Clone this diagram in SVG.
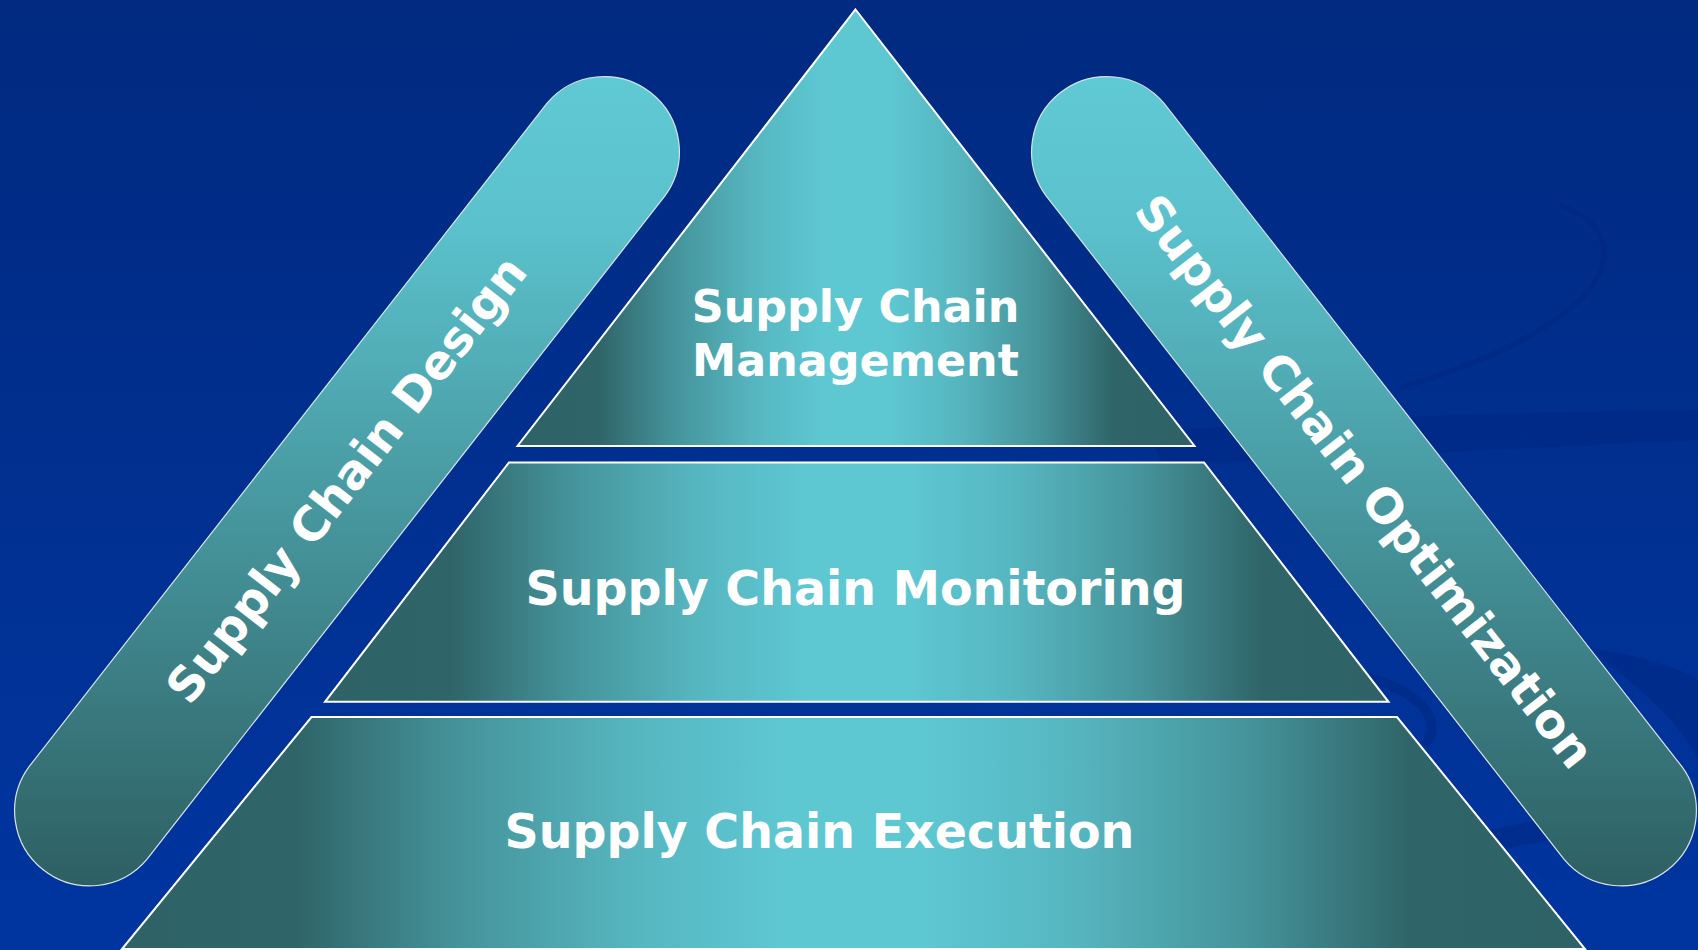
<svg xmlns="http://www.w3.org/2000/svg" width="1698" height="950" viewBox="0 0 1698 950">
  <defs>
    <linearGradient id="bg" x1="0" y1="0" x2="0" y2="1">
      <stop offset="0" stop-color="#012A80"/>
      <stop offset="1" stop-color="#0035A0"/>
    </linearGradient>
    <linearGradient id="tier" x1="0" y1="0" x2="1" y2="0">
      <stop offset="0" stop-color="#2E6266"/>
      <stop offset="0.12" stop-color="#2F6569"/>
      <stop offset="0.23" stop-color="#45939A"/>
      <stop offset="0.35" stop-color="#56B6C0"/>
      <stop offset="0.45" stop-color="#5DC7D2"/>
      <stop offset="0.55" stop-color="#5DC7D2"/>
      <stop offset="0.65" stop-color="#56B6C0"/>
      <stop offset="0.77" stop-color="#45939A"/>
      <stop offset="0.88" stop-color="#2F6569"/>
      <stop offset="1" stop-color="#2E6266"/>
    </linearGradient>
    <linearGradient id="pill" gradientUnits="userSpaceOnUse" x1="0" y1="75" x2="0" y2="888">
      <stop offset="0" stop-color="#5FC9D4"/>
      <stop offset="0.18" stop-color="#5BC2CD"/>
      <stop offset="1" stop-color="#2D5F62"/>
    </linearGradient>
  </defs>
  <style>
    .tier { fill: url(#tier); stroke: #FFFFFF; stroke-width: 2; stroke-linejoin: miter; }
    .pill { fill: url(#pill); stroke: #D8E4EC; stroke-width: 1.2; }
    .lbl { font-family: "DejaVu Sans", Verdana, sans-serif; font-weight: bold; fill: #FFFFFF; text-anchor: middle; }
    .swoosh { fill: #00267F; opacity: 0.45; }
  </style>

  <rect x="0" y="0" width="1698" height="950" fill="url(#bg)"/>

  <g id="background-swooshes">
    <path class="swoosh" d="M 1150 432 C 1320 420 1480 412 1698 410 L 1698 440 C 1490 448 1330 462 1160 462 Z"/>
    <path d="M 1560 205 C 1640 235 1625 320 1400 388" fill="none" stroke="#00267F" stroke-width="5" opacity="0.5"/>
    <path d="M 1360 676 C 1420 690 1445 720 1425 745" fill="none" stroke="#00267F" stroke-width="10" opacity="0.5"/>
    <path class="swoosh" d="M 1590 648 C 1640 655 1685 670 1698 680 L 1698 760 C 1680 720 1640 690 1590 648 Z"/>
    <path class="swoosh" d="M 1480 832 C 1560 815 1640 800 1698 790 L 1698 812 C 1640 822 1560 838 1490 852 Z"/>
  </g>

  <g id="node-design">
    <path class="pill" d="M 147.1 859.1 L 665.1 195.6 A 75 75 0 0 0 546.9 103.4 L 28.9 766.9 A 75 75 0 0 0 147.1 859.1 Z"/>
    <text class="lbl" font-size="47.5" transform="translate(346 479) rotate(-52)" x="0" y="17">Supply Chain Design</text>
  </g>

  <g id="node-optimization">
    <path class="pill" d="M 1563.9 859.1 L 1045.9 195.6 A 75 75 0 0 1 1164.1 103.4 L 1682.1 766.9 A 75 75 0 0 1 1563.9 859.1 Z"/>
    <text class="lbl" font-size="47.5" transform="translate(1365 481) rotate(52)" x="0" y="17">Supply Chain Optimization</text>
  </g>

  <g id="node-management">
    <polygon class="tier" points="855.5,9.5 1194.5,446 517.5,446"/>
    <text class="lbl" font-size="44.4" x="855.5" y="321.7">Supply Chain</text>
    <text class="lbl" font-size="44.4" x="855.5" y="375.5">Management</text>
  </g>

  <g id="node-monitoring">
    <polygon class="tier" points="509,462.4 1204,462.4 1388.5,701.8 325,701.8"/>
    <text class="lbl" font-size="47.5" x="855.5" y="605">Supply Chain Monitoring</text>
  </g>

  <g id="node-execution">
    <polygon class="tier" points="311.5,717 1397,717 1585,949 122,949"/>
    <text class="lbl" font-size="47.5" x="819.5" y="848.3">Supply Chain Execution</text>
  </g>

  <g id="connectors"></g>
</svg>
